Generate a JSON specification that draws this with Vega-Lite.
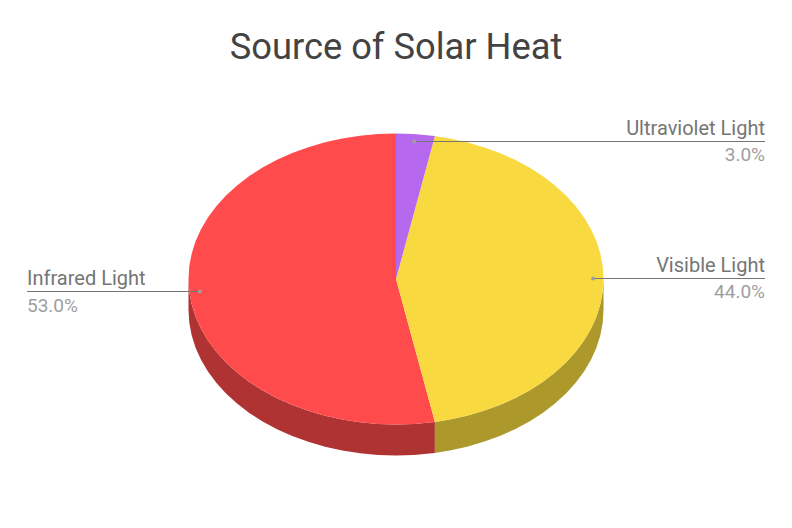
{
  "$schema": "https://vega.github.io/schema/vega-lite/v6.json",
  "width": 792,
  "height": 528,
  "padding": 0,
  "autosize": "none",
  "background": "#ffffff",
  "title": {
    "text": "Source of Solar Heat",
    "font": "Roboto",
    "fontSize": 36.3,
    "fontWeight": "normal",
    "color": "#434343",
    "orient": "none",
    "anchor": "middle",
    "baseline": "alphabetic",
    "dx": 396,
    "dy": 59
  },
  "config": {"view": {"stroke": null}},
  "datasets": {
    "slices": [
      {"label": "Ultraviolet Light", "share": 0.03, "labelX": 177.83, "nameY": 98.97, "shareY": 81.1, "lineY": 94.5, "lineFrom": 8.8, "lineTo": 177.83, "dotX": 8.8},
      {"label": "Visible Light", "share": 0.44, "labelX": 177.83, "nameY": 4.81, "shareY": -13.06, "lineY": 0.34, "lineFrom": 95, "lineTo": 177.83, "dotX": 95},
      {"label": "Infrared Light", "share": 0.53, "labelX": -177.83, "nameY": -4.13, "shareY": -22.68, "lineY": -8.59, "lineFrom": -177.83, "lineTo": -94.46, "dotX": -94.46}
    ],
    "outline": [
      {"piece": "infrared side", "x": -100, "y": 0, "y2": -21.3},
      {"piece": "infrared side", "x": -99.62, "y": -8.72, "y2": -30.02},
      {"piece": "infrared side", "x": -98.48, "y": -17.36, "y2": -38.66},
      {"piece": "infrared side", "x": -96.59, "y": -25.88, "y2": -47.18},
      {"piece": "infrared side", "x": -93.97, "y": -34.2, "y2": -55.5},
      {"piece": "infrared side", "x": -90.63, "y": -42.26, "y2": -63.56},
      {"piece": "infrared side", "x": -86.6, "y": -50, "y2": -71.3},
      {"piece": "infrared side", "x": -81.92, "y": -57.36, "y2": -78.66},
      {"piece": "infrared side", "x": -76.6, "y": -64.28, "y2": -85.58},
      {"piece": "infrared side", "x": -70.71, "y": -70.71, "y2": -92.01},
      {"piece": "infrared side", "x": -64.28, "y": -76.6, "y2": -97.9},
      {"piece": "infrared side", "x": -57.36, "y": -81.92, "y2": -103.22},
      {"piece": "infrared side", "x": -50, "y": -86.6, "y2": -107.9},
      {"piece": "infrared side", "x": -42.26, "y": -90.63, "y2": -111.93},
      {"piece": "infrared side", "x": -34.2, "y": -93.97, "y2": -115.27},
      {"piece": "infrared side", "x": -25.88, "y": -96.59, "y2": -117.89},
      {"piece": "infrared side", "x": -17.36, "y": -98.48, "y2": -119.78},
      {"piece": "infrared side", "x": -8.72, "y": -99.62, "y2": -120.92},
      {"piece": "infrared side", "x": 0, "y": -100, "y2": -121.3},
      {"piece": "infrared side", "x": 8.72, "y": -99.62, "y2": -120.92},
      {"piece": "infrared side", "x": 17.36, "y": -98.48, "y2": -119.78},
      {"piece": "infrared side", "x": 18.74, "y": -98.23, "y2": -119.53},

      {"piece": "visible side", "x": 18.74, "y": -98.23, "y2": -119.53},
      {"piece": "visible side", "x": 25.88, "y": -96.59, "y2": -117.89},
      {"piece": "visible side", "x": 34.2, "y": -93.97, "y2": -115.27},
      {"piece": "visible side", "x": 42.26, "y": -90.63, "y2": -111.93},
      {"piece": "visible side", "x": 50, "y": -86.6, "y2": -107.9},
      {"piece": "visible side", "x": 57.36, "y": -81.92, "y2": -103.22},
      {"piece": "visible side", "x": 64.28, "y": -76.6, "y2": -97.9},
      {"piece": "visible side", "x": 70.71, "y": -70.71, "y2": -92.01},
      {"piece": "visible side", "x": 76.6, "y": -64.28, "y2": -85.58},
      {"piece": "visible side", "x": 81.92, "y": -57.36, "y2": -78.66},
      {"piece": "visible side", "x": 86.6, "y": -50, "y2": -71.3},
      {"piece": "visible side", "x": 90.63, "y": -42.26, "y2": -63.56},
      {"piece": "visible side", "x": 93.97, "y": -34.2, "y2": -55.5},
      {"piece": "visible side", "x": 96.59, "y": -25.88, "y2": -47.18},
      {"piece": "visible side", "x": 98.48, "y": -17.36, "y2": -38.66},
      {"piece": "visible side", "x": 99.62, "y": -8.72, "y2": -30.02},
      {"piece": "visible side", "x": 100, "y": 0, "y2": -21.3},

      {"piece": "infrared top", "x": -100, "y": 0, "y2": 0},
      {"piece": "infrared top", "x": -99.62, "y": 8.72, "y2": -8.72},
      {"piece": "infrared top", "x": -98.48, "y": 17.36, "y2": -17.36},
      {"piece": "infrared top", "x": -96.59, "y": 25.88, "y2": -25.88},
      {"piece": "infrared top", "x": -93.97, "y": 34.2, "y2": -34.2},
      {"piece": "infrared top", "x": -90.63, "y": 42.26, "y2": -42.26},
      {"piece": "infrared top", "x": -86.6, "y": 50, "y2": -50},
      {"piece": "infrared top", "x": -81.92, "y": 57.36, "y2": -57.36},
      {"piece": "infrared top", "x": -76.6, "y": 64.28, "y2": -64.28},
      {"piece": "infrared top", "x": -70.71, "y": 70.71, "y2": -70.71},
      {"piece": "infrared top", "x": -64.28, "y": 76.6, "y2": -76.6},
      {"piece": "infrared top", "x": -57.36, "y": 81.92, "y2": -81.92},
      {"piece": "infrared top", "x": -50, "y": 86.6, "y2": -86.6},
      {"piece": "infrared top", "x": -42.26, "y": 90.63, "y2": -90.63},
      {"piece": "infrared top", "x": -34.2, "y": 93.97, "y2": -93.97},
      {"piece": "infrared top", "x": -25.88, "y": 96.59, "y2": -96.59},
      {"piece": "infrared top", "x": -17.36, "y": 98.48, "y2": -98.48},
      {"piece": "infrared top", "x": -8.72, "y": 99.62, "y2": -99.62},
      {"piece": "infrared top", "x": 0, "y": 100, "y2": -100},
      {"piece": "infrared top", "x": 0.01, "y": 0, "y2": -100},
      {"piece": "infrared top", "x": 8.72, "y": -45.7, "y2": -99.62},
      {"piece": "infrared top", "x": 17.36, "y": -90.97, "y2": -98.48},
      {"piece": "infrared top", "x": 18.74, "y": -98.23, "y2": -98.23},

      {"piece": "visible top", "x": 0, "y": 0, "y2": 0},
      {"piece": "visible top", "x": 8.72, "y": 45.7, "y2": -45.7},
      {"piece": "visible top", "x": 17.36, "y": 90.97, "y2": -90.97},
      {"piece": "visible top", "x": 18.74, "y": 98.23, "y2": -98.23},
      {"piece": "visible top", "x": 25.88, "y": 96.59, "y2": -96.59},
      {"piece": "visible top", "x": 34.2, "y": 93.97, "y2": -93.97},
      {"piece": "visible top", "x": 42.26, "y": 90.63, "y2": -90.63},
      {"piece": "visible top", "x": 50, "y": 86.6, "y2": -86.6},
      {"piece": "visible top", "x": 57.36, "y": 81.92, "y2": -81.92},
      {"piece": "visible top", "x": 64.28, "y": 76.6, "y2": -76.6},
      {"piece": "visible top", "x": 70.71, "y": 70.71, "y2": -70.71},
      {"piece": "visible top", "x": 76.6, "y": 64.28, "y2": -64.28},
      {"piece": "visible top", "x": 81.92, "y": 57.36, "y2": -57.36},
      {"piece": "visible top", "x": 86.6, "y": 50, "y2": -50},
      {"piece": "visible top", "x": 90.63, "y": 42.26, "y2": -42.26},
      {"piece": "visible top", "x": 93.97, "y": 34.2, "y2": -34.2},
      {"piece": "visible top", "x": 96.59, "y": 25.88, "y2": -25.88},
      {"piece": "visible top", "x": 98.48, "y": 17.36, "y2": -17.36},
      {"piece": "visible top", "x": 99.62, "y": 8.72, "y2": -8.72},
      {"piece": "visible top", "x": 100, "y": 0, "y2": 0},

      {"piece": "ultraviolet top", "x": 0, "y": 100, "y2": 0},
      {"piece": "ultraviolet top", "x": 8.72, "y": 99.62, "y2": 45.7},
      {"piece": "ultraviolet top", "x": 17.36, "y": 98.48, "y2": 90.97},
      {"piece": "ultraviolet top", "x": 18.74, "y": 98.23, "y2": 98.23}
    ]
  },
  "data": {"name": "slices"},
  "layer": [
    {
      "data": {"name": "outline"},
      "mark": {"type": "area", "interpolate": "linear"},
      "encoding": {
        "x": {"field": "x", "type": "quantitative", "axis": null, "scale": {"domain": [-190.84, 190.84], "nice": false, "zero": false}},
        "y": {"field": "y", "type": "quantitative", "axis": null, "scale": {"domain": [-171.13, 191.75], "nice": false, "zero": false}},
        "y2": {"field": "y2"},
        "color": {
          "field": "piece",
          "type": "nominal",
          "legend": null,
          "scale": {
            "domain": ["infrared side", "visible side", "infrared top", "visible top", "ultraviolet top"],
            "range": ["#b03333", "#ad982b", "#ff4b4b", "#f8da40", "#b668ee"]
          }
        }
      }
    },
    {
      "mark": {"type": "rule", "color": "#757575", "strokeWidth": 1},
      "encoding": {
        "x": {"field": "lineFrom", "type": "quantitative"},
        "x2": {"field": "lineTo"},
        "y": {"field": "lineY", "type": "quantitative"}
      }
    },
    {
      "mark": {"type": "point", "filled": true, "size": 16, "color": "#9e9e9e", "opacity": 1},
      "encoding": {
        "x": {"field": "dotX", "type": "quantitative"},
        "y": {"field": "lineY", "type": "quantitative"}
      }
    },
    {
      "mark": {"type": "text", "font": "Roboto", "fontSize": 20, "color": "#757575", "baseline": "alphabetic", "align": {"expr": "datum.label == 'Infrared Light' ? 'left' : 'right'"}},
      "encoding": {
        "x": {"field": "labelX", "type": "quantitative"},
        "y": {"field": "nameY", "type": "quantitative"},
        "text": {"field": "label", "type": "nominal"}
      }
    },
    {
      "mark": {"type": "text", "font": "Roboto", "fontSize": 19, "color": "#9e9e9e", "baseline": "alphabetic", "align": {"expr": "datum.label == 'Infrared Light' ? 'left' : 'right'"}},
      "encoding": {
        "x": {"field": "labelX", "type": "quantitative"},
        "y": {"field": "shareY", "type": "quantitative"},
        "text": {"field": "share", "type": "quantitative", "format": ".1%"}
      }
    }
  ]
}
